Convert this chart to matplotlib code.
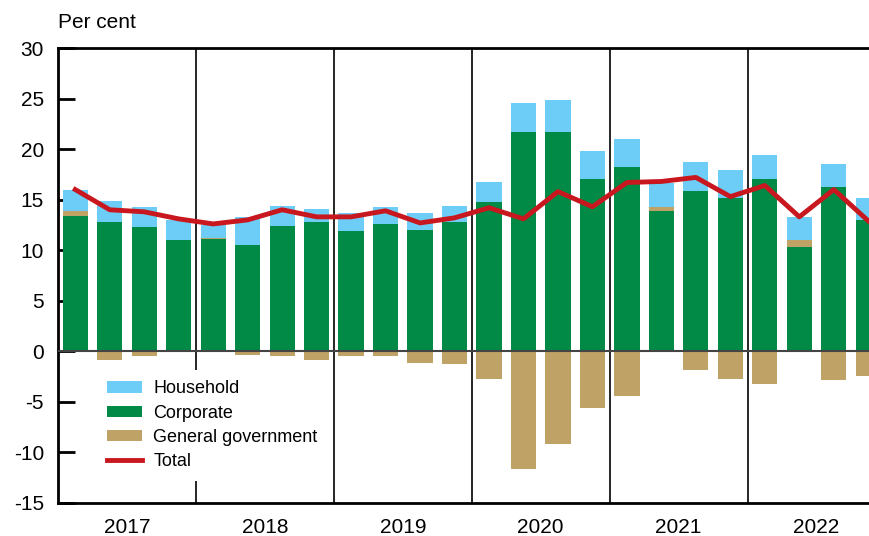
import numpy as np
import matplotlib
matplotlib.use("Agg")
import matplotlib.pyplot as plt

plt.rcParams['font.family'] = ['Liberation Sans', 'DejaVu Sans']
plt.rcParams['axes.unicode_minus'] = False

years = ['2017', '2018', '2019', '2020', '2021', '2022']

# quarterly values 2017Q1 - 2022Q4, per cent
household = [2.1, 2.1, 2.0, 2.0, 1.25, 2.8, 2.0, 1.3, 1.8, 1.7, 1.7, 1.6,
             1.9, 2.9, 3.2, 2.8, 2.8, 2.3, 2.8, 2.7, 2.4, 2.3, 2.2, 2.2]
corporate = [13.4, 12.8, 12.3, 11.0, 11.1, 10.5, 12.4, 12.8, 11.9, 12.6, 12.0, 12.8,
             14.8, 21.7, 21.7, 17.0, 18.2, 13.9, 15.9, 15.2, 17.0, 10.3, 16.3, 13.0]
government = [0.5, -0.9, -0.5, 0.0, 0.15, -0.4, -0.5, -0.9, -0.5, -0.5, -1.2, -1.3,
              -2.7, -11.6, -9.2, -5.6, -4.4, 0.4, -1.8, -2.7, -3.2, 0.7, -2.8, -2.4]
total = [16.0, 14.0, 13.8, 13.1, 12.6, 13.0, 14.0, 13.3, 13.3, 13.9, 12.7, 13.2,
         14.2, 13.1, 15.8, 14.3, 16.7, 16.8, 17.2, 15.3, 16.4, 13.3, 16.0, 12.9]

c_hh = '#6dcdf6'
c_corp = '#008a45'
c_gov = '#bfa265'
c_tot = '#c8171e'

x = np.arange(len(total))
corp = np.array(corporate)
gov = np.array(government)
hh = np.array(household)
gov_pos = np.where(gov > 0, gov, 0)
gov_neg = np.where(gov < 0, gov, 0)

fig = plt.figure(figsize=(8.7, 5.36), dpi=100)
ax = fig.add_axes([58 / 870, 33 / 536, 1 - 58 / 870 + 0.002, 455 / 536])

w = 0.73
ax.bar(x, corp, width=w, color=c_corp, label='Corporate', zorder=2)
ax.bar(x, gov_pos, width=w, bottom=corp, color=c_gov, zorder=2)
ax.bar(x, hh, width=w, bottom=corp + gov_pos, color=c_hh, label='Household', zorder=2)
ax.bar(x, gov_neg, width=w, color=c_gov, label='General government', zorder=2)
ax.plot(x, total, color=c_tot, lw=3.5, label='Total', zorder=4)

ax.axhline(0, color='#444444', lw=1.5, zorder=3)
for k in range(1, len(years)):
    ax.axvline(4 * k - 0.5, color='black', lw=1.2, zorder=1)

ax.set_xlim(-0.5, 23.1)
ax.set_ylim(-15, 30)
ax.set_yticks(np.arange(-15, 31, 5))
ax.tick_params(axis='y', direction='in', length=12, width=2, labelsize=15, pad=10)
ax.set_xticks([4 * k + 1.5 for k in range(len(years))])
ax.set_xticklabels(years)
ax.tick_params(axis='x', length=0, labelsize=15, pad=11)
for s in ['left', 'bottom', 'top']:
    ax.spines[s].set_linewidth(2)
ax.spines['right'].set_visible(False)

handles, labels = ax.get_legend_handles_labels()
order = [labels.index(n) for n in ['Household', 'Corporate', 'General government', 'Total']]
leg = ax.legend([handles[i] for i in order], [labels[i] for i in order],
                loc='upper left', bbox_to_anchor=(0.036, 0.313), frameon=True,
                fontsize=13, handlelength=1.95, handleheight=0.6, labelspacing=0.4,
                borderpad=0.6, handletextpad=0.6)
leg.get_frame().set_edgecolor('none')
leg.get_frame().set_facecolor('white')
leg.get_frame().set_alpha(1)
leg.set_zorder(5)
for h in leg.legend_handles[3:]:
    h.set_linewidth(3.5)

fig.text(58 / 870, 1 - 22 / 536, 'Per cent', fontsize=15, va='center', ha='left')

fig.savefig('out.png', dpi=100)
